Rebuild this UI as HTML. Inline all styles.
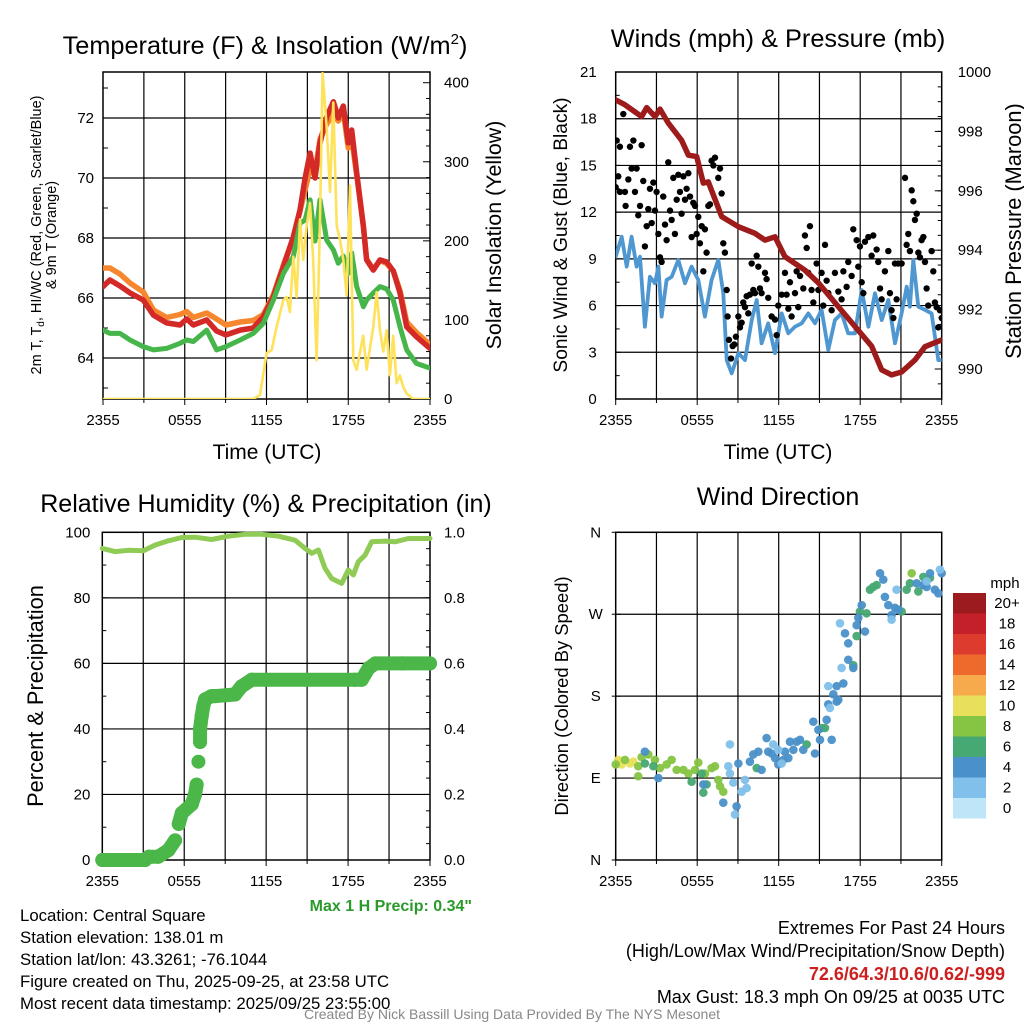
<!DOCTYPE html>
<html><head><meta charset="utf-8"><style>
html,body{margin:0;padding:0;background:#fff;}
svg{display:block;font-family:"Liberation Sans",Arial,sans-serif;}
</style></head><body>
<svg id="c" width="1024" height="1024" viewBox="0 0 1024 1024"></svg>
<script>
// ---------- DATA ----------
const tempHours=[0,0.51,1.25,1.98,2.96,3.7,4.67,5.65,6.14,6.63,7.61,8.34,9.03,10.06,11.03,11.77,12.5,13.24,13.97,14.46,14.83,15.2,15.56,15.93,16.42,16.91,17.27,17.64,18.0,18.25,18.62,19.11,19.35,19.84,20.33,20.82,21.31,21.8,22.29,23.0,24];
const tempRed=[66.38,66.6,66.4,66.17,65.93,65.43,65.17,65.1,65.3,65.1,65.27,64.9,64.77,64.93,65.0,65.38,66.04,67.04,68.04,68.93,70.0,70.83,70.0,71.17,72.04,72.54,72.0,72.4,71.17,71.6,70.17,68.38,67.27,66.93,67.27,67.2,66.9,66.17,65.04,64.71,64.32];
const tempOrange=[67.0,67.0,66.8,66.5,66.2,65.6,65.35,65.45,65.55,65.35,65.5,65.3,65.1,65.2,65.25,65.45,66.1,67.1,68.0,68.9,69.6,70.3,70.2,71.3,71.8,72.1,71.9,72.2,71.0,71.3,70.1,68.4,67.3,66.95,67.25,67.15,66.9,66.25,65.2,64.85,64.45];
const tempGreen=[64.93,64.82,64.82,64.6,64.38,64.27,64.32,64.49,64.6,64.55,64.93,64.27,64.38,64.6,64.82,65.16,65.93,66.82,67.38,68.49,68.6,69.27,67.9,69.27,67.93,67.6,67.16,67.4,66.82,67.5,66.38,65.71,65.93,66.17,66.38,66.3,65.93,65.04,64.27,63.82,63.66];
const solarHours=[0,11.03,11.52,12.01,12.38,12.74,13.23,13.48,13.72,13.97,14.21,14.46,14.70,14.95,15.19,15.43,15.68,15.92,16.12,16.41,16.66,16.90,17.15,17.39,17.64,17.88,18.13,18.37,18.61,19.10,19.35,19.84,20.08,20.33,20.57,20.82,21.06,21.30,21.55,21.79,22.04,22.28,22.77,24];
const solarVals=[0,0,5,58,62,91,125,129,110,180,129,227,176,219,248,176,49,219,412,345,262,375,219,202,176,131,270,49,37,80,37,91,135,87,60,87,30,80,20,30,15,7,0,0];
const presHours=[0,0.68,1.91,2.28,2.89,3.26,3.87,4.85,5.35,5.96,6.45,6.82,7.8,9.03,10.25,10.99,11.73,12.46,13.93,14.92,16.39,17.86,18.84,19.58,20.31,21.05,22.03,22.77,24];
const presVals=[999.06,998.9,998.5,998.8,998.5,998.75,998.28,997.7,997.2,997.15,996.26,996.3,995.13,994.79,994.57,994.34,994.45,993.78,993.33,992.9,992.1,991.3,990.77,989.97,989.8,989.9,990.3,990.75,990.98];
const windHours=[0,0.44,0.81,1.17,1.54,1.79,2.15,2.52,2.89,3.14,3.38,3.75,4.12,4.61,5.1,5.59,6.08,6.57,7.06,7.55,7.92,8.17,8.54,9.03,9.52,10.01,10.38,10.74,11.23,11.73,12.22,12.71,13.2,13.69,14.18,14.67,15.16,15.65,16.14,16.63,17.12,17.62,18.11,18.6,19.09,19.58,20.07,20.56,21.05,21.42,21.66,21.91,22.28,22.77,23.26,23.75,24];
const windVals=[9.14,10.42,8.5,10.42,8.5,9.14,4.64,7.85,7.43,8.5,5.29,7.64,7.85,8.93,7.43,8.5,7.64,5.29,7.64,8.93,6.79,2.5,1.65,2.94,2.5,5.07,6.36,3.58,4.86,2.94,5.5,4.22,4.64,4.86,5.5,4.86,5.72,3.15,5.07,5.5,4.22,4.22,7.0,4.64,6.79,5.07,6.36,3.58,5.5,7.21,5.93,8.93,5.93,5.72,5.5,2.5,2.5];
const gustHours=[0,0.07,0.31,0.56,0.19,0.31,0.68,0.73,0.93,1.05,1.17,1.3,1.42,1.54,1.66,1.79,1.91,2.03,2.15,2.28,2.4,2.52,2.65,2.77,2.89,3.01,3.14,3.26,3.38,3.5,3.63,3.75,3.87,4.0,4.12,4.24,4.36,4.49,4.61,4.73,4.85,4.98,5.1,5.22,5.35,5.47,5.59,5.71,5.84,5.96,6.08,6.2,6.33,6.45,6.57,6.69,6.82,6.94,7.06,7.19,7.31,7.55,7.68,7.8,7.92,8.04,8.17,8.24,8.34,8.49,8.61,8.73,8.85,9.03,9.15,9.27,9.39,9.52,9.64,9.76,9.88,10.01,10.13,10.25,10.38,10.5,10.62,10.74,10.99,11.11,11.23,11.48,11.73,11.85,11.97,12.22,12.46,12.58,12.71,12.83,12.95,13.2,13.32,13.44,13.57,13.81,13.93,14.06,14.18,14.3,14.42,14.55,14.79,14.92,15.16,15.28,15.41,15.53,15.65,15.9,16.14,16.39,16.63,16.76,17.0,17.12,17.37,17.49,17.74,17.86,17.98,18.11,18.23,18.35,18.6,18.84,18.96,19.21,19.33,19.46,19.58,19.82,20.07,20.19,20.31,20.44,20.56,20.68,20.8,21.05,21.3,21.42,21.54,21.66,21.79,21.91,22.03,22.16,22.28,22.4,22.52,22.65,22.77,22.89,23.01,23.26,23.38,23.5,23.63,23.75,23.87,24];
const gustVals=[13.6,16.6,16.2,18.3,14.3,13.3,13.3,12.4,14.1,16.2,14.8,16.6,13.3,14.8,11.8,12.4,16.3,14.0,9.8,11.1,12.2,13.5,11.3,13.9,12.1,13.3,10.6,9.1,8.8,13.0,11.2,10.2,15.2,12.1,11.5,14.2,10.6,12.8,14.4,13.3,11.9,14.3,12.8,13.5,14.5,13.0,10.4,12.6,12.4,10.6,11.7,10.0,11.1,8.2,10.9,9.4,12.4,12.5,15.3,15.0,15.5,14.2,14.8,13.2,10.0,9.4,7.0,5.3,3.8,2.6,3.4,3.5,4.0,5.3,4.6,4.9,6.2,5.9,6.6,5.5,6.7,8.7,7.0,6.8,9.2,8.5,7.1,6.8,8.1,7.7,6.5,5.3,5.1,4.1,6.0,6.7,8.1,6.7,5.8,7.5,5.3,6.8,8.2,5.9,7.9,7.1,10.5,9.7,8.1,11.1,7.0,6.2,8.7,7.0,8.1,6.0,9.9,7.6,6.8,5.7,8.1,6.9,6.4,8.2,7.2,8.8,7.9,10.9,10.2,8.5,9.8,7.5,6.8,10.1,10.4,9.2,10.5,9.6,8.8,7.1,6.4,8.2,9.5,6.8,5.7,5.2,8.7,6.4,8.7,8.7,14.2,9.9,10.6,9.5,13.4,12.7,11.5,11.9,9.4,9.1,10.2,10.4,8.8,7.1,6.0,9.5,8.2,6.2,5.9,4.6,5.7,5.2];
const rhHours=[0,0.93,1.91,3.01,3.86,4.84,5.82,6.79,8.01,9.23,10.45,11.68,12.9,14.12,14.85,15.34,15.83,16.31,16.8,17.53,18.02,18.39,18.75,19.24,19.73,20.71,21.44,22.42,24];
const rhVals=[95.1,94.1,94.5,94.4,96.1,97.4,98.4,98.5,97.8,98.8,99.4,99.4,98.8,97.6,95.1,93.6,94.6,89.0,85.9,84.4,88.5,87.0,91.0,93.0,97.1,97.3,97.1,98.1,98.1];
const precipHours=[0,1.0,2.0,3.13,3.4,4.1,4.84,5.33,5.6,5.82,6.55,6.79,6.91,7.04,7.16,7.16,7.28,7.4,7.53,8.0,8.26,9.72,10.2,10.94,12.0,15.0,18.5,19.0,19.5,20.0,22.0,24];
const precipVals=[0,0,0,0,0.01,0.01,0.03,0.06,0.11,0.143,0.17,0.2,0.23,0.3,0.36,0.40,0.44,0.47,0.49,0.50,0.50,0.505,0.53,0.55,0.55,0.55,0.55,0.55,0.585,0.60,0.60,0.60];
const dirHours=[0.19,0.44,1.05,1.3, 0,0.68,1.66,1.91,2.4,2.89,3.26,3.75,4.12,4.49,4.98,5.35,5.84,6.08,6.57,7.06,7.31,7.55,7.68,7.92,1.66, 2.15,2.77,5.59,6.45,6.69,6.33,10.38,14.06,15.16,15.41,17.49,17.74,17.98,18.47,18.72,18.96,19.21,21.05,21.42,21.66,21.79,22.28,22.65,23.14, 2.15,3.14,6.45,7.92,8.9,9.03,9.88,10.13,10.5,10.74,11.11,11.23,11.48,11.73,11.97,12.34,12.46,12.71,12.83,13.08,13.32,13.57,13.81,14.55,14.67,14.92,15.04,15.53,15.65,15.9,16.02,16.27,16.39,16.76,16.27,16.88,17.12,17.12,17.49,17.74,17.86,18.11,18.35,19.46,19.7,19.82,20.07,20.31,20.56,20.8,22.16,22.65,22.89,23.14,23.5,23.75,24, 8.41,8.29,8.41,8.66,8.78,9.27,9.52,9.64,11.6,11.97,12.22,15.65,15.77,16.63,16.51,20.31,20.68,23.87,22.89];
const dirDeg=[110,105,106,108, 105,110,103,113,116,110,101,105,110,99,99,95,99,107,95,101,103,88,81,75,92, 106,103,86,74,83,95,101,127,145,145,214,246,273,271,297,300,302,273,297,304,315,295,311,310, 119,90,83,63,59,106,108,116,119,99,134,119,117,112,105,110,119,112,130,121,130,132,121,152,117,143,132,154,171,132,182,174,176,194,191,249,238,220,211,258,266,280,251,315,308,289,280,269,277,275,304,302,300,315,297,293,315, 127,103,95,85,50,75,88,79,127,121,106,191,167,211,260,264,297,319,306];
const dirSpeed=[10.5,10.5,10.3,10.2, 8.5,8.6,8.4,8.5,8.7,8.3,8.4,8.5,8.6,8.2,8.4,8.3,8.5,8.8,8.2,8.4,8.5,8.1,8.3,8.2,8.4, 6.5,6.8,6.4,6.6,6.2,6.7,6.5,6.9,6.3,6.6,6.4,6.8,6.5,6.2,6.7,6.6,6.4,6.9,6.3,6.5,8.2,6.6,6.4,6.2, 4.5,4.8,5.2,4.6,4.1,5.0,4.4,4.9,4.6,5.3,4.2,4.7,4.8,4.5,4.3,5.1,4.6,4.8,4.2,4.9,4.5,4.3,4.7,5.0,4.4,4.6,4.8,4.2,4.9,4.5,5.0,4.3,4.6,4.7,4.4,4.8,4.5,4.3,4.9,4.6,4.2,4.7,4.4,4.6,4.8,4.5,4.2,4.7,4.3,4.6,4.5,4.8,4.4,4.6,4.3,4.7,4.5, 2.8,3.1,2.6,2.9,3.2,2.7,3.0,2.8,2.9,3.3,2.6,3.1,2.8,3.2,3.0,2.7,3.1,3.0,2.9];
const timeTicks=["2355","0555","1155","1755","2355"];
const tempTicks=[64,66,68,70,72];
const solarTicks=[0,100,200,300,400];
const windTicks=[0,3,6,9,12,15,18,21];
const presTicks=[990,992,994,996,998,1000];
const rhTicks=[0,20,40,60,80,100];
const precTicks=["0.0","0.2","0.4","0.6","0.8","1.0"];
const dirTicks=["N","E","S","W","N"];
const cbLabels=["20+","18","16","14","12","10","8","6","4","2","0"];
const cbColors=["#9b1b1e","#c4202a","#dd3b2e","#ee6a2c","#f6aa4c","#e8e05a","#86c443","#46a872","#4a90c9","#80c0ea","#bfe6f8"];

// ---------- HELPERS ----------
const svg=document.getElementById('c');
const NS='http://www.w3.org/2000/svg';
function mk(tag,attrs,parent){const e=document.createElementNS(NS,tag);for(const k in attrs)e.setAttribute(k,attrs[k]);(parent||svg).appendChild(e);return e;}
function txt(x,y,s,size,anchor,parent,extra){const t=mk('text',Object.assign({x:x,y:y,'font-size':size,'text-anchor':anchor||'middle',fill:'#000'},extra||{}),parent);t.textContent=s;return t;}
function lin(d0,d1,r0,r1){return v=>r0+(v-d0)*(r1-r0)/(d1-d0);}
const TK=15;

function panel(name,L,R,T,B,hgrid){
  const g=mk('g',{});
  
  
  const X=lin(0,24,L,R);
  for(let i=1;i<8;i++){const x=X(i*3);mk('line',{x1:x,x2:x,y1:T,y2:B,stroke:'#000','stroke-width':1.2},g);}
  hgrid.forEach(y=>mk('line',{x1:L,x2:R,y1:y,y2:y,stroke:'#000','stroke-width':1.2},g));
  mk('rect',{x:L,y:T,width:R-L,height:B-T,fill:'none',stroke:'#000','stroke-width':1.5},g);
  timeTicks.forEach((s,i)=>{const x=X(i*6);mk('line',{x1:x,x2:x,y1:B,y2:B+6,stroke:'#000'},g);txt(x,B+26,s,TK,'middle',g);});
  for(let i=1;i<8;i+=2){const x=X(i*3);mk('line',{x1:x,x2:x,y1:B,y2:B+4,stroke:'#000'},g);}
  return {g,X};
}
function poly(g,xs,ys,X,Y,color,w,name){
  const p=mk('polyline',{points:xs.map((h,i)=>X(h).toFixed(1)+','+Y(ys[i]).toFixed(1)).join(' '),fill:'none',stroke:color,'stroke-width':w,'stroke-linejoin':'round','stroke-linecap':'round'},g);
  
  
  return p;
}

// ---------- PANEL 1 ----------
{
  const L=103,R=430,T=72,B=399;
  const Y=lin(64,72,358,118), YS=lin(0,400,399,82.7);
  const {g,X}=panel('temperature-panel',L,R,T,B,tempTicks.map(Y));
  tempTicks.forEach(v=>txt(L-9,Y(v)+5,String(v),TK,'end',g));
  for(let v=63;v<=73;v+=2){mk('line',{x1:L,x2:L+5,y1:Y(v),y2:Y(v),stroke:'#000'},g);}
  solarTicks.forEach(v=>{mk('line',{x1:R,x2:R-7,y1:YS(v),y2:YS(v),stroke:'#000'},g);txt(R+14,YS(v)+5,String(v),TK,'start',g);});
  for(let v=20;v<420;v+=20){if(v%100)mk('line',{x1:R,x2:R-4,y1:YS(v),y2:YS(v),stroke:'#000'},g);}
  const clip=mk('clipPath',{id:'cp1'});mk('rect',{x:L,y:T,width:R-L,height:B-T},clip);
  const d=mk('g',{'clip-path':'url(#cp1)'},g);
  poly(d,tempHours,tempOrange,X,Y,'#f6872e',5.5,'series-9m-temp');
  poly(d,tempHours,tempRed,X,Y,'#d42a27',5.5,'series-2m-temp');
  poly(d,tempHours,tempGreen,X,Y,'#46b54a',5,'series-dewpoint');
  poly(d,solarHours,solarVals,X,YS,'#fde25a',2.6,'series-solar');
  const t=txt(265,54,'Temperature (F) & Insolation (W/m',25.3,'middle',svg,{});
  const s=mk('tspan',{'font-size':15,dy:-10},t);s.textContent='2';
  const s2=mk('tspan',{dy:10},t);s2.textContent=')';
  txt(267,459,'Time (UTC)',21,'middle',svg,{});
  const yl=txt(0,0,'',14.5,'middle',svg,{transform:'translate(41,235) rotate(-90)',});
  yl.textContent='2m T, T';const sub=mk('tspan',{'font-size':10,dy:3},yl);sub.textContent='d';const r=mk('tspan',{dy:-3},yl);r.textContent=', HI/WC (Red, Green, Scarlet/Blue)';
  txt(0,0,'& 9m T (Orange)',14.5,'middle',svg,{transform:'translate(56,235) rotate(-90)'});
  txt(0,0,'Solar Insolation (Yellow)',21.4,'middle',svg,{transform:'translate(501,235) rotate(-90)',});
}
// ---------- PANEL 2 ----------
{
  const L=615.7,R=941.7,T=72,B=399;
  const Y=lin(0,21,399,72), YP=lin(990,1000,369,72);
  const {g,X}=panel('wind-panel',L,R,T,B,[3,6,9,12,15,18].map(Y));
  windTicks.forEach(v=>{mk('line',{x1:L,x2:L+5,y1:Y(v),y2:Y(v),stroke:'#000'},g);txt(L-19,Y(v)+5,String(v),TK,'end',g);});
  for(let v=1.5;v<21;v+=3)mk('line',{x1:L,x2:L+4,y1:Y(v),y2:Y(v),stroke:'#000'},g);
  presTicks.forEach(v=>{mk('line',{x1:R,x2:R-7,y1:YP(v),y2:YP(v),stroke:'#000'},g);txt(R+16,YP(v)+5,String(v),TK,'start',g);});
  for(let v=989.5;v<1000;v+=0.5){mk('line',{x1:R,x2:R-4,y1:YP(v),y2:YP(v),stroke:'#000'},g);}
  const clip=mk('clipPath',{id:'cp2'});mk('rect',{x:L,y:T,width:R-L,height:B-T},clip);
  const d=mk('g',{'clip-path':'url(#cp2)'},g);
  poly(d,windHours,windVals,X,Y,'#4f97d1',3.8,'series-sonic-wind');
  const gg=mk('g',{},d);
  
  
  gustHours.forEach((h,i)=>mk('circle',{cx:X(h),cy:Y(gustVals[i]),r:3.2,fill:'#000'},gg));
  poly(d,presHours,presVals,X,YP,'#9e1b1b',5.5,'series-pressure');
  txt(778,47,'Winds (mph) & Pressure (mb)',25.3,'middle',svg,{});
  txt(778,459,'Time (UTC)',21,'middle',svg);
  txt(0,0,'Sonic Wind & Gust (Blue, Black)',19.2,'middle',svg,{transform:'translate(567,235) rotate(-90)',});
  txt(0,0,'Station Pressure (Maroon)',21.8,'middle',svg,{transform:'translate(1021,231) rotate(-90)',});
}
// ---------- PANEL 3 ----------
{
  const L=102.3,R=430,T=532.3,B=860;
  const Y=lin(0,100,860,532.3), YP=lin(0,1,860,532.3);
  const {g,X}=panel('humidity-panel',L,R,T,B,[20,40,60,80].map(Y));
  rhTicks.forEach(v=>{mk('line',{x1:L,x2:L+5,y1:Y(v),y2:Y(v),stroke:'#000'},g);txt(L-12,Y(v)+5,String(v),TK,'end',g);});
  for(let v=10;v<100;v+=20)mk('line',{x1:L,x2:L+4,y1:Y(v),y2:Y(v),stroke:'#000'},g);
  precTicks.forEach((s,i)=>{const y=YP(i*0.2);mk('line',{x1:R,x2:R-7,y1:y,y2:y,stroke:'#000'},g);txt(R+14,y+5,s,TK,'start',g);});
  for(let v=0.05;v<1;v+=0.05)mk('line',{x1:R,x2:R-4,y1:YP(v),y2:YP(v),stroke:'#000'},g);
  poly(g,rhHours,rhVals,X,Y,'#8fcb55',5,'series-rh');
  const pg=mk('g',{},g);
  
  
  for(let i=1;i<precipHours.length;i++){
    if(Math.abs(precipVals[i]-precipVals[i-1])<0.05)
      mk('line',{x1:X(precipHours[i-1]),y1:YP(precipVals[i-1]),x2:X(precipHours[i]),y2:YP(precipVals[i]),stroke:'#4ab748','stroke-width':14,'stroke-linecap':'round'},pg);
  }
  precipHours.forEach((h,i)=>mk('circle',{cx:X(h),cy:YP(precipVals[i]),r:7,fill:'#4ab748'},pg));
  txt(266,512,'Relative Humidity (%) & Precipitation (in)',25,'middle',svg,{});
  txt(0,0,'Percent & Precipitation',21.8,'middle',svg,{transform:'translate(43,696) rotate(-90)',});
  txt(472,911,'Max 1 H Precip: 0.34"',16,'end',svg,{fill:'#2a9a2a','font-weight':'bold',});
}
// ---------- PANEL 4 ----------
{
  const L=615.7,R=941.7,T=532.3,B=860;
  const Y=lin(0,360,860,532.3);
  const {g,X}=panel('direction-panel',L,R,T,B,[90,180,270].map(Y));
  dirTicks.forEach((s,i)=>{const y=Y(i*90);mk('line',{x1:L-4,x2:L+5,y1:y,y2:y,stroke:'#000'},g);txt(L-20,y+5,s,TK,'middle',g);});
  const dg=mk('g',{},g);
  
  
  dirHours.forEach((h,i)=>{const idx=Math.min(10,Math.floor(dirSpeed[i]/2));mk('circle',{cx:X(h),cy:Y(dirDeg[i]),r:4.3,fill:cbColors[10-idx],'fill-opacity':0.95},dg);});
  txt(778,505,'Wind Direction',25,'middle',svg,{});
  txt(0,0,'Direction (Colored By Speed)',18.4,'middle',svg,{transform:'translate(568,696) rotate(-90)',});
  const cb=mk('g',{});
  
  
  txt(1005,588,'mph',15,'middle',cb);
  cbColors.forEach((c,i)=>{const y=593+i*20.5;mk('rect',{x:953,y:y,width:33,height:20.5,fill:c},cb);txt(1007,y+15,cbLabels[i],15,'middle',cb);});
}
// ---------- FOOTER TEXT ----------
const info=["Location: Central Square","Station elevation: 138.01 m","Station lat/lon: 43.3261; -76.1044","Figure created on Thu, 2025-09-25, at 23:58 UTC","Most recent data timestamp: 2025/09/25 23:55:00"];
const ig=mk('g',{});


info.forEach((s,i)=>txt(20,921+i*22,s,16.8,'start',ig));
const eg=mk('g',{});


txt(1005,934,'Extremes For Past 24 Hours',18,'end',eg);
txt(1005,957,'(High/Low/Max Wind/Precipitation/Snow Depth)',18,'end',eg);
txt(1005,980,'72.6/64.3/10.6/0.62/-999',18,'end',eg,{fill:'#cc2020','font-weight':'bold'});
txt(1005,1003,'Max Gust: 18.3 mph On 09/25 at 0035 UTC',18,'end',eg);
txt(512,1019,'Created By Nick Bassill Using Data Provided By The NYS Mesonet',14,'middle',svg,{fill:'#888',});
</script>
</body></html>
